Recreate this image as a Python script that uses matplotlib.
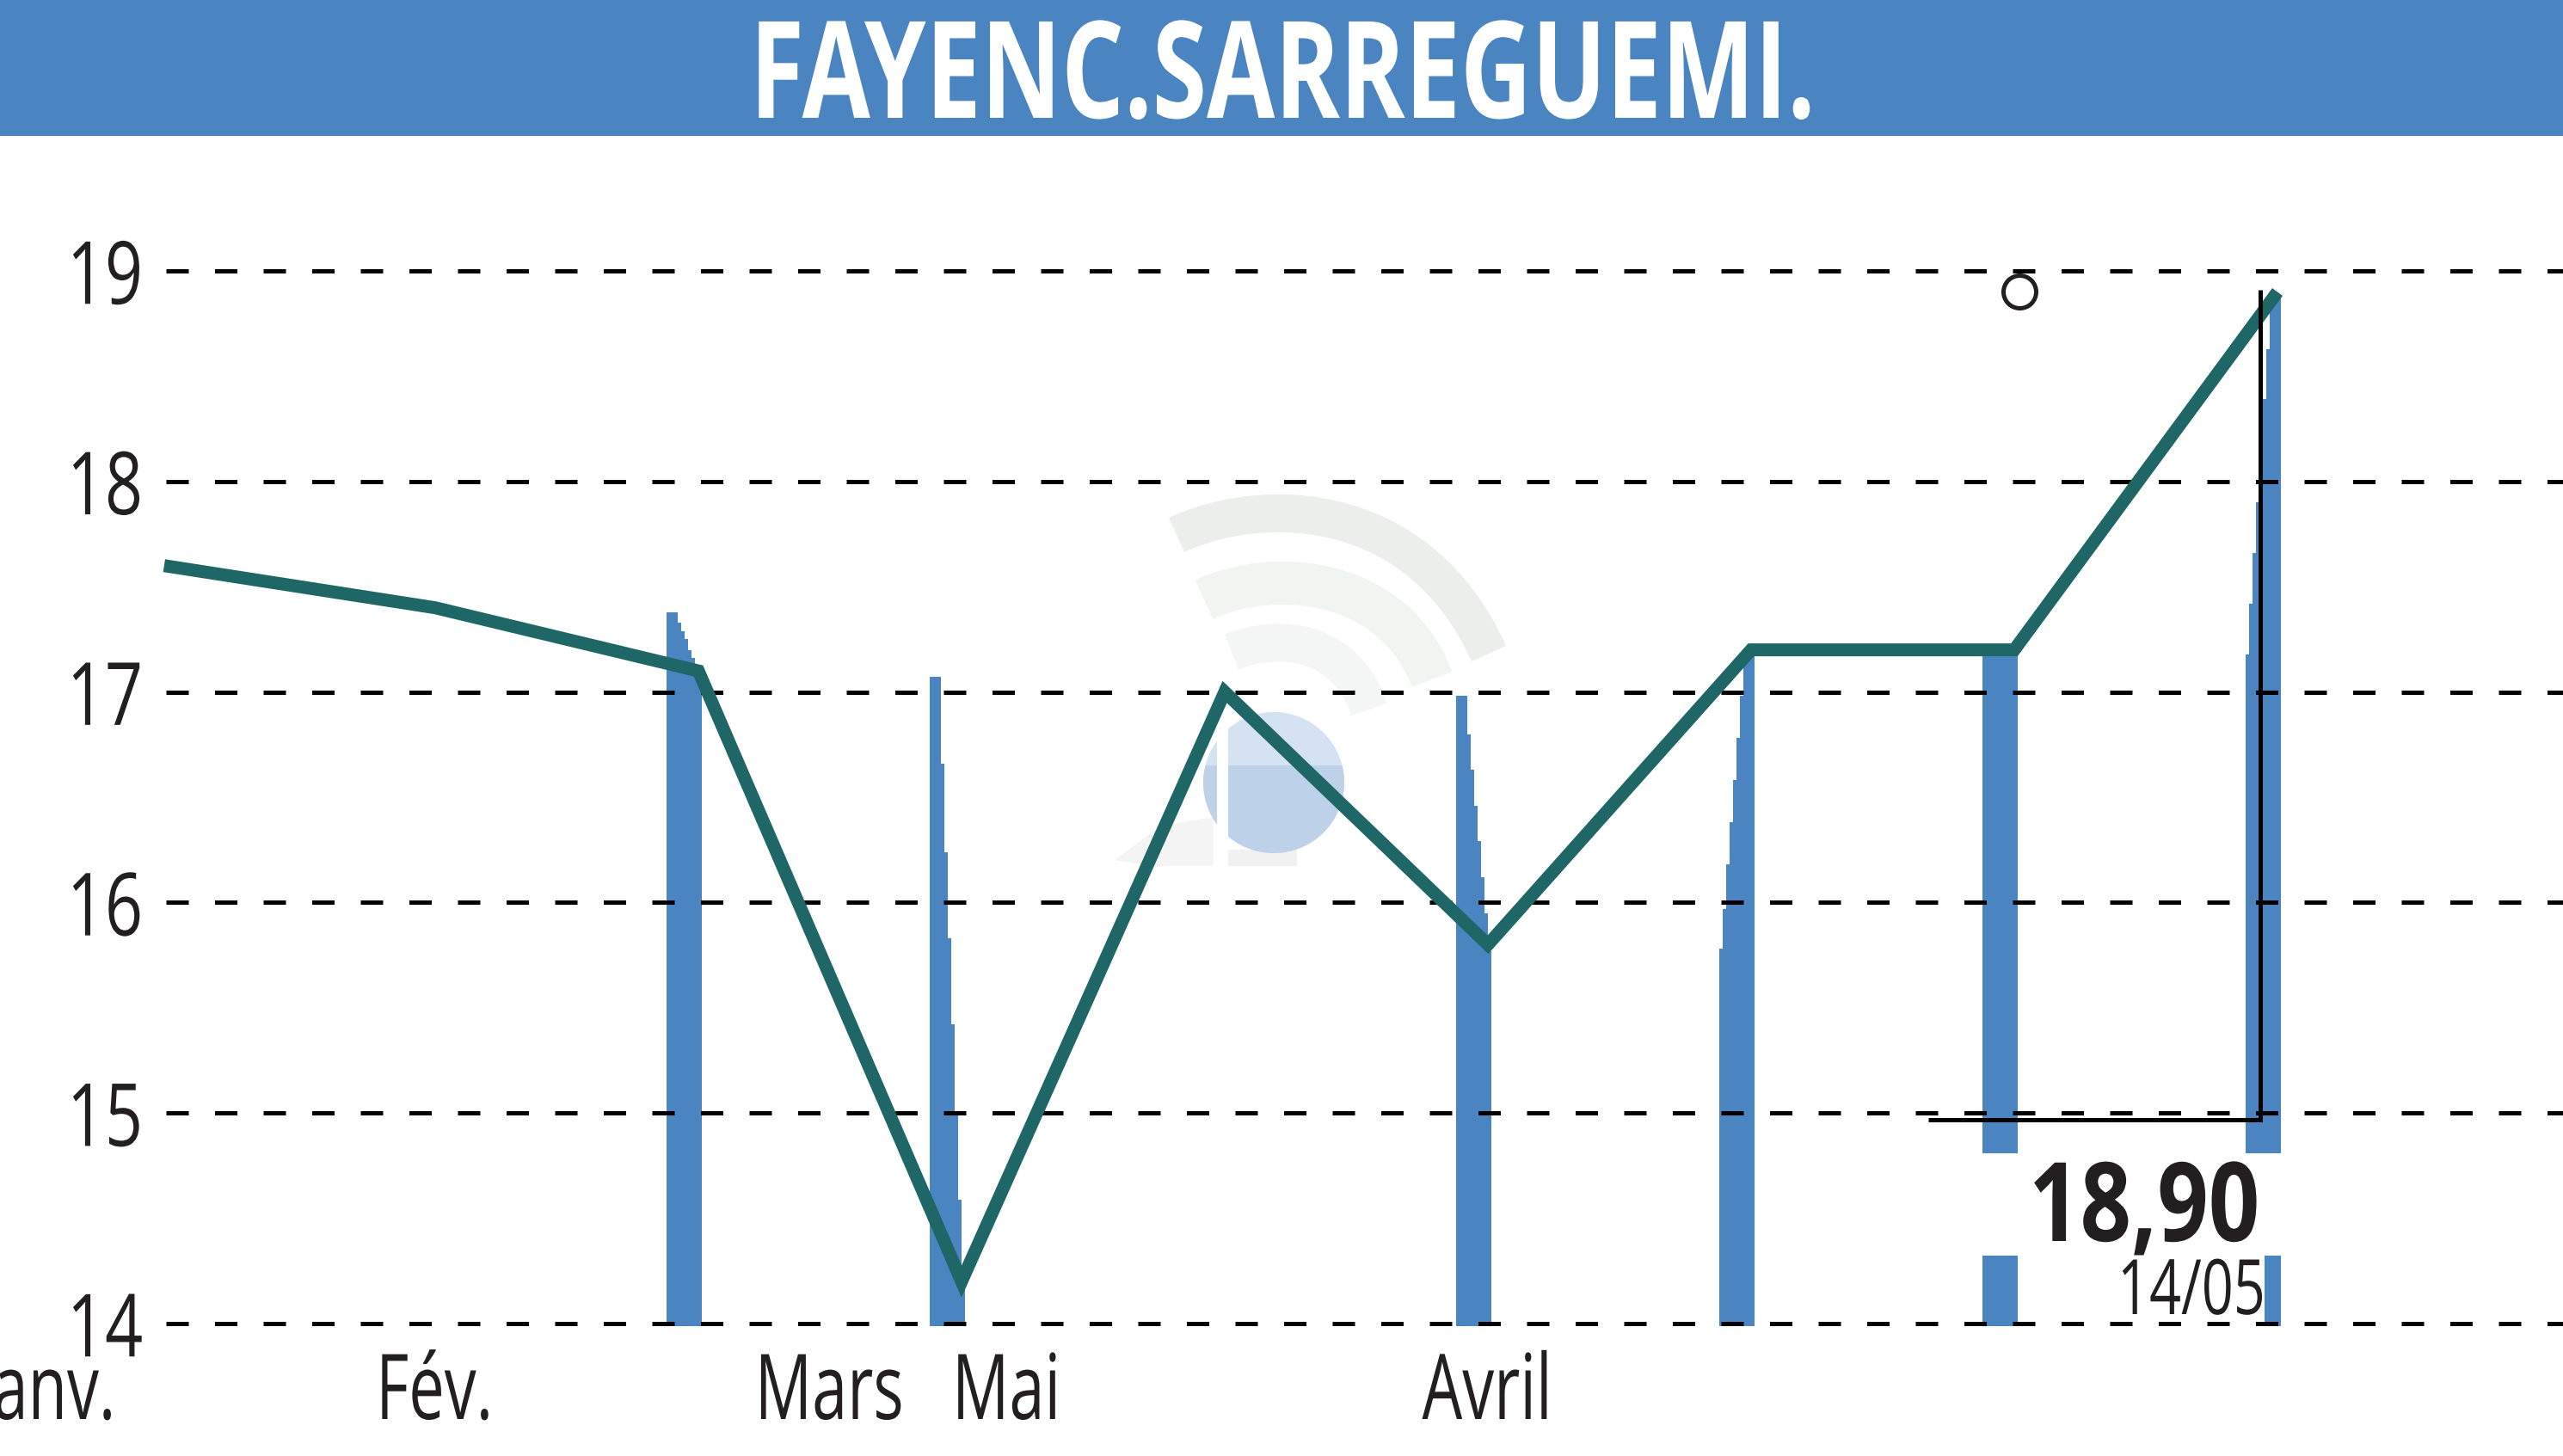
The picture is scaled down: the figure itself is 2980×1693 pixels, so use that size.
#!/usr/bin/env python3
# -*- coding: utf-8 -*-
"""Share price chart with stepped volume bars and a pale logo behind it."""

import matplotlib
matplotlib.use('Agg')
import matplotlib.pyplot as plt
from matplotlib.patches import Circle, PathPatch, Polygon, Rectangle
from matplotlib.path import Path
from matplotlib.patheffects import AbstractPathEffect
from matplotlib.transforms import Affine2D

# data
title = 'FAYENC.SARREGUEMI.'
price_x = [-0.03, 1, 2, 3, 4, 5, 6, 7, 8]
prices = [17.6, 17.4, 17.1, 14.2, 17.0, 15.8, 17.2, 17.2, 18.9]
month_labels = ['Janv.', 'Fév.', 'Mars', 'Mai', 'Avril']
month_pos = [-0.48, 0.997, 2.497, 3.17, 4.997]
y_ticks = [14, 15, 16, 17, 18, 19]
last_price = '18,90'
last_date = '14/05'
high_point = (7.02, 18.9)

bar_index = [2, 3, 5, 6, 7, 8]
bar_tops = [
    [17.38, 17.33, 17.29, 17.25, 17.20, 17.16, 17.12, 17.08],
    [17.07, 16.66, 16.24, 15.83, 15.42, 14.99, 14.59, 14.18],
    [16.98, 16.80, 16.63, 16.46, 16.29, 16.12, 15.95, 15.77],
    [15.78, 15.97, 16.18, 16.38, 16.58, 16.78, 16.98, 17.18],
    [17.20, 17.20, 17.20, 17.20, 17.20, 17.20, 17.20, 17.20],
    [17.18, 17.42, 17.66, 17.90, 18.15, 18.39, 18.63, 18.88],
]

BLUE = '#4a85c2'
GREEN = '#1f6666'
INK = '#231f20'
FONT = ['Open Sans', 'DejaVu Sans']

W, H = 2980, 1693
X0, DX = 200.0, 306.0      # pixel of index 0, pixels per index
Y14, DY = 1539.0, 244.8    # pixel of value 14, pixels per unit
PX = 0.72                  # one pixel in points at dpi 100


class Squeeze(AbstractPathEffect):
    """Narrows a text around a pixel column, no condensed font is installed"""

    def __init__(self, factor, anchor):
        super().__init__()
        self.factor = factor
        self.anchor = anchor

    def draw_path(self, renderer, gc, tpath, affine, rgbFace=None):
        narrow = Affine2D().translate(-self.anchor, 0).scale(self.factor, 1)
        narrow = narrow.translate(self.anchor, 0)
        renderer.draw_path(gc, tpath, affine + narrow, rgbFace)


def data_x(px):
    return (px - X0) / DX


def data_y(py):
    return 14 + (Y14 - py) / DY


def stroke(ax, pts, width, colour):
    """Pale thick curve for the logo, pts are 4 bezier points in pixels"""
    codes = [Path.MOVETO, Path.CURVE4, Path.CURVE4, Path.CURVE4]
    ax.add_patch(PathPatch(Path(pts, codes), fill=False, edgecolor=colour,
                           lw=width * PX, capstyle='butt'))


def draw_backdrop(fig):
    """Header band and watermark, in pixel coordinates"""
    back = fig.add_axes([0, 0, 1, 1], zorder=0)
    back.set_xlim(0, W)
    back.set_ylim(H, 0)
    back.axis('off')
    back.add_patch(Rectangle((0, 0), W, 158, color=BLUE, lw=0))

    stroke(back, [(1368, 622), (1470, 575), (1650, 580), (1731, 760)], 44, '#eceeec')
    stroke(back, [(1400, 697), (1480, 660), (1620, 670), (1665, 790)], 50, '#f1f5f1')
    stroke(back, [(1432, 758), (1490, 735), (1565, 745), (1592, 825)], 44, '#f3f6f4')

    back.add_patch(Polygon([(1296, 1000), (1350, 960), (1411, 950), (1411, 1007),
                            (1340, 1007)], color='#f4f4f4', lw=0))
    back.add_patch(Rectangle((1428, 988), 80, 19, color='#f1f1f1', lw=0))
    back.add_patch(Circle((1481, 910), 82, color='#d5e2f1', lw=0))
    lower = Circle((1481, 910), 82, color='#bdd2e8', lw=0)
    back.add_patch(lower)
    lower.set_clip_path(Rectangle((1390, 890), 190, 110,
                                  transform=back.transData))
    back.add_patch(Rectangle((1415, 820), 13, 190, color='white', lw=0))


def draw_bars(ax):
    """Each bar is a wide slice plus seven thin ones, stepping up to the price"""
    wide, thin = 13 / DX, 4 / DX
    base = ax.get_ylim()[0]
    for idx, tops in zip(bar_index, bar_tops):
        left = idx + 4 / DX - (wide + 7 * thin)
        widths = [wide] + [thin] * 7 if tops[0] >= tops[-1] else [thin] * 7 + [wide]
        for top, width in zip(tops, widths):
            ax.bar(left, top - base, width=width, bottom=base, align='edge',
                   color=BLUE, lw=0, zorder=1)
            left += width


def draw_callout(ax):
    """White boxes behind the last price and the black bracket"""
    ax.add_patch(Rectangle((data_x(2200), data_y(1460)), 500 / DX, 119 / DY,
                           color='white', lw=0, zorder=1.5))
    ax.add_patch(Rectangle((data_x(2347), data_y(1542)), 286 / DX, 82 / DY,
                           color='white', lw=0, zorder=1.5))
    ax.plot([data_x(2242), data_x(2628), data_x(2628)],
            [data_y(1302), data_y(1302), data_y(337)], color='black',
            lw=5 * PX, solid_joinstyle='miter', solid_capstyle='butt', zorder=4)


def fitted_text(fig, x, y, s, width, **kwargs):
    """Text at pixel x, y with its drawn width squeezed to a pixel width"""
    text = fig.text(x / W, 1 - y / H, s, family=FONT, va='baseline', **kwargs)
    full = text.get_window_extent(fig.canvas.get_renderer()).width
    text.set_path_effects([Squeeze(width / full, x)])
    return text


if __name__ == '__main__':
    plt.rcParams['lines.scale_dashes'] = False
    fig = plt.figure(figsize=(W / 100, H / 100), dpi=100, facecolor='white')
    draw_backdrop(fig)

    ax = fig.add_axes([193 / W, 1 - 1542 / H, (W - 193) / W, (1542 - 158) / H],
                      zorder=1)
    ax.patch.set_visible(False)
    for spine in ax.spines.values():
        spine.set_visible(False)

    ax.set_axisbelow(False)
    ax.set_yticks(y_ticks)
    ax.set_xticks([])
    ax.set_xlim(data_x(193), data_x(W))
    ax.set_ylim(data_y(1542), data_y(158))

    draw_bars(ax)
    draw_callout(ax)

    ax.grid(axis='y', color='black', lw=5 * PX,
            linestyle=(0, (26 * PX, 30.5 * PX)), dash_capstyle='butt')
    ax.tick_params(axis='y', length=0, pad=27 * PX, labelsize=73, labelcolor=INK)
    for label in ax.get_yticklabels():
        label.set_family(FONT)
        label.set_path_effects([Squeeze(0.76, 166)])

    # the first month label runs off the left edge, so these are not ticks
    for name, pos in zip(month_labels, month_pos):
        px = X0 + DX * pos
        label = fig.text(px / W, 1 - 1650 / H, name, family=FONT, size=76,
                         color=INK, ha='center', va='baseline')
        label.set_path_effects([Squeeze(0.70, px)])

    ax.plot(price_x, prices, color=GREEN, lw=15 * PX, clip_on=False,
            solid_joinstyle='miter', solid_capstyle='butt', zorder=3)
    ax.plot(*high_point, 'o', ms=38 * PX, mfc='none', mec=INK, mew=5 * PX, zorder=4)

    fitted_text(fig, 1492, 137, title, 1240, color='white', size=113,
                weight='bold', ha='center')
    fitted_text(fig, 2627, 1443, last_price, 268, color=INK, size=92,
                weight='bold', ha='right')
    fitted_text(fig, 2634, 1528, last_date, 172, color=INK, size=64, ha='right')

    fig.savefig('out.png', dpi=100)
